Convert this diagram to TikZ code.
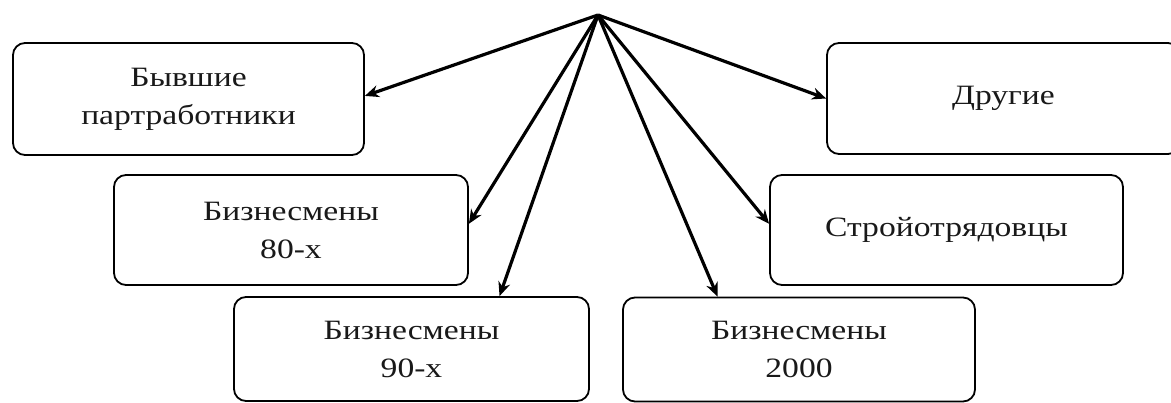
\documentclass[tikz,border=0pt]{standalone}
\usepackage{fontspec}
\setmainfont[FakeStretch=1.2]{Liberation Serif}
\usetikzlibrary{arrows.meta}
\begin{document}
\begin{tikzpicture}[x=1pt,y=-1pt,
  box/.style={draw=black,line width=1.8pt,rounded corners=12pt,inner sep=0pt,align=center,
    font=\fontsize{28}{38}\selectfont,text=black!90},
  arr/.style={line width=3.2pt,-{Stealth[length=14pt,width=12pt]}}]
\useasboundingbox (0,0) rectangle (1171,403);
\clip (0,0) rectangle (1171,403);
\node[box,minimum width=351pt,minimum height=112pt] (b1) at (188.5,99) {Бывшие\\партработники};
\node[box,minimum width=354pt,minimum height=110pt] (b2) at (291,230) {Бизнесмены\\80-х};
\node[box,minimum width=355pt,minimum height=104pt] (b3) at (411.5,349) {Бизнесмены\\90-х};
\node[box,minimum width=352pt,minimum height=104pt] (b4) at (799,349.5) {Бизнесмены\\2000};
\node[box,minimum width=353pt,minimum height=110pt] (b5) at (946.5,230) {Стройотрядовцы};
\node[box,minimum width=353pt,minimum height=111pt] (b6) at (1003.5,98.5) {Другие};
\coordinate (top) at (598,15);
\draw[arr] (top) -- (b1.1);
\draw[arr] (top) -- (b2.2);
\draw[arr] (top) -- (b3.31);
\draw[arr] (top) -- (b4.147);
\draw[arr] (top) -- (b5.178);
\draw[arr] (top) -- (b6.west);
\end{tikzpicture}
\end{document}
